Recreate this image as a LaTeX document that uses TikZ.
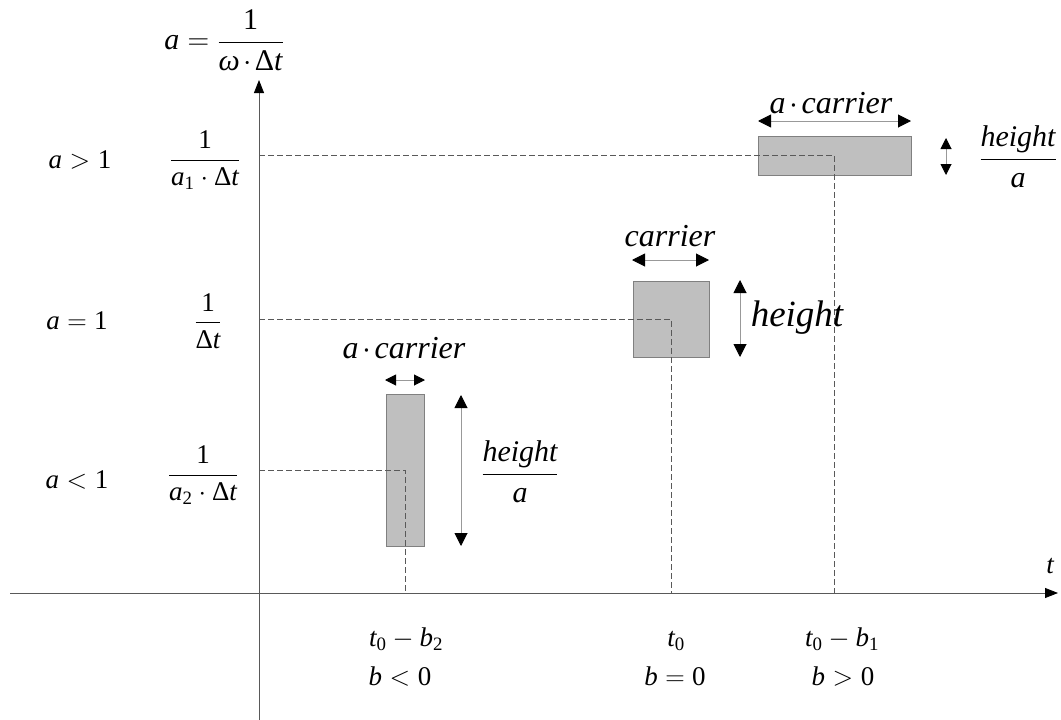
\RequirePackage{fix-cm}
\documentclass[tikz,border=0pt]{standalone}
\usepackage{amsmath}
\usepackage{fontspec}
\setmainfont{Liberation Serif}
\usetikzlibrary{arrows.meta}
\newcommand{\vv}[1]{\text{\itshape #1}}
\newcommand{\rr}[1]{\text{\upshape #1}}
\newcommand{\tdot}{\mkern2mu{\cdot}\mkern2mu}
\begin{document}
\begin{tikzpicture}[x=1pt,y=-1pt,
  axis/.style={draw=black!65, line width=0.8pt, -{Triangle[length=13pt,width=10pt,color=black]}},
  dim/.style={draw=black!40, line width=1pt, {Triangle[length=13pt,width=13pt,color=black]}-{Triangle[length=13pt,width=13pt,color=black]}},
  sdim/.style={draw=black!40, line width=1pt, {Triangle[length=11pt,width=11pt,color=black]}-{Triangle[length=11pt,width=11pt,color=black]}},
  box/.style={draw=black!50, fill=black!25, line width=0.7pt, inner sep=0pt},
  guide/.style={draw=black!65, dash pattern=on 6pt off 3pt, line width=0.7pt},
  lab/.style={inner sep=0pt, font=\fontsize{27}{32}\selectfont},
  toplab/.style={inner sep=0pt, font=\fontsize{30}{36}\selectfont},
  carr/.style={inner sep=0pt, font=\fontsize{32}{38}\selectfont},
  hbig/.style={inner sep=0pt, font=\fontsize{37}{44}\selectfont},
  hfrac/.style={inner sep=0pt, font=\fontsize{30}{36}\selectfont}
]
\useasboundingbox (0,0) rectangle (1061,720);

% axes
\coordinate (vb) at (259,720);
\coordinate (vt) at (259,80);
\coordinate (ha) at (10,593);
\coordinate (hb) at (1058,593);
\draw[axis] (vb) -- (vt);
\draw[axis] (ha) -- (hb);

% boxes
\node[box, minimum width=153pt, minimum height=39pt] (b1) at (834.5,155.5) {};
\node[box, minimum width=76pt, minimum height=76pt] (b2) at (671,319) {};
\node[box, minimum width=38pt, minimum height=152pt] (b3) at (405,470) {};

% guides
\draw[guide] (b1.center -| vb) -- (b1.center) -- (b1.center |- ha);
\draw[guide] (b2.center -| vb) -- (b2.center) -- (b2.center |- ha);
\draw[guide] (b3.center -| vb) -- (b3.center) -- (b3.center |- ha);
\coordinate (hd) at (1044,593);
\draw[guide] (b3.center |- ha) -- (hd);

% dimension arrows
\coordinate (d1a) at (758,121); \coordinate (d1b) at (911,121);
\coordinate (d1c) at (946,138); \coordinate (d1d) at (946,175);
\coordinate (d2a) at (632,260); \coordinate (d2b) at (709,260);
\coordinate (d2c) at (740,280); \coordinate (d2d) at (740,357);
\coordinate (d3a) at (385,380); \coordinate (d3b) at (425,380);
\coordinate (d3c) at (461,395); \coordinate (d3d) at (461,546);
\draw[dim] (d1a) -- (d1b);
\draw[sdim] (d1c) -- (d1d);
\draw[dim] (d2a) -- (d2b);
\draw[dim] (d2c) -- (d2d);
\draw[sdim] (d3a) -- (d3b);
\draw[dim] (d3c) -- (d3d);

% labels near boxes
\node[carr] (l1) at (831,103) {$\vv{a}\tdot\vv{carrier}$};
\node[hfrac] (l2) at (1018,157) {$\dfrac{\vv{height}}{\vv{a}}$};
\node[carr] (l3) at (670,236) {$\vv{carrier}$};
\node[hbig] (l4) at (797,318) {$\vv{height}$};
\node[carr] (l5) at (404,348) {$\vv{a}\tdot\vv{carrier}$};
\node[hfrac] (l6) at (520,472) {$\dfrac{\vv{height}}{\vv{a}}$};

% left labels
\node[toplab] (ttl) at (224,40) {$\vv{a} = \dfrac{\rr{1}}{\vv{ω}\tdot\rr{Δ}\vv{t}}$};
\node[lab] (c1) at (80,160) {$\vv{a} > \rr{1}$};
\node[lab] (f1) at (205,160) {$\dfrac{\rr{1}}{\vv{a}_{\rr{1}}\cdot\rr{Δ}\vv{t}}$};
\node[lab] (c2) at (77,321) {$\vv{a} = \rr{1}$};
\node[lab] (f2) at (208,321) {$\dfrac{\rr{1}}{\rr{Δ}\vv{t}}$};
\node[lab] (c3) at (77,480) {$\vv{a} < \rr{1}$};
\node[lab] (f3) at (203,475) {$\dfrac{\rr{1}}{\vv{a}_{\rr{2}}\cdot\rr{Δ}\vv{t}}$};

% bottom labels
\node[lab, anchor=base] (x1) at (406,646) {$\vv{t}_{\rr{0}} - \vv{b}_{\rr{2}}$};
\node[lab, anchor=base] (y1) at (400,685) {$\vv{b} < \rr{0}$};
\node[lab, anchor=base] (x2) at (676,646) {$\vv{t}_{\rr{0}}$};
\node[lab, anchor=base] (y2) at (675,685) {$\vv{b} = \rr{0}$};
\node[lab, anchor=base] (x3) at (842,646) {$\vv{t}_{\rr{0}} - \vv{b}_{\rr{1}}$};
\node[lab, anchor=base] (y3) at (843,685) {$\vv{b} > \rr{0}$};
\node[lab, anchor=base] (tl) at (1050,573) {$\vv{t}$};
\end{tikzpicture}
\end{document}
